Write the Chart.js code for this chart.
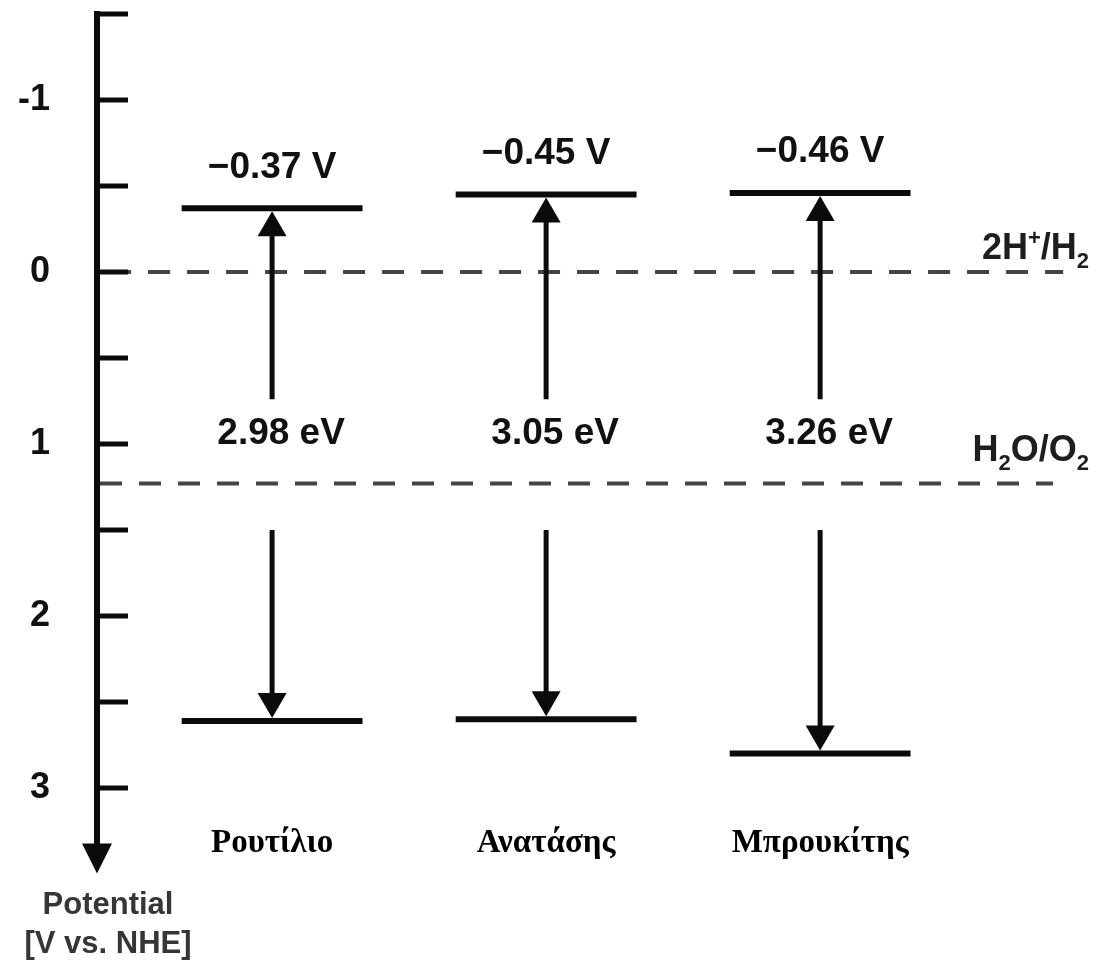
<!DOCTYPE html>
<html>
<head>
<meta charset="utf-8">
<script src="https://cdn.jsdelivr.net/npm/chart.js@4/dist/chart.umd.min.js"></script>
<style>
  html, body { margin: 0; padding: 0; background: #ffffff; }
  canvas { display: block; }
</style>
</head>
<body>
<canvas id="c" width="1101" height="962"></canvas>
<script>
// Band edge positions of the three TiO2 polymorphs against NHE
const phases   = ['Ρουτίλιο', 'Ανατάσης', 'Μπρουκίτης'];
const cbEdges  = [-0.37, -0.45, -0.46];   // conduction band edge, V vs NHE
const bandGaps = [2.98, 3.05, 3.26];      // eV
const vbEdges  = [2.61, 2.60, 2.80];      // valence band edge, V vs NHE

// Water redox couples
const redoxValues = [0, 1.23];
const redoxLabels = [
  [['2H', ''], ['+', 'sup'], ['/H', ''], ['2', 'sub']],
  [['H', ''], ['2', 'sub'], ['O/O', ''], ['2', 'sub']]
];

// Potential axis
const tickValues = [-1.5, -1, -0.5, 0, 0.5, 1, 1.5, 2, 2.5, 3];
const tickLabels = ['', '-1', '', '0', '', '1', '', '2', '', '3'];
const axisTitle  = ['Potential', '[V vs. NHE]'];

// Drawing layout (in scale units unless noted)
const L = {
  xMin: -0.639, xMax: 3.025,
  halfLen: 0.33,
  upArrowFrom: 0.74, downArrowFrom: 1.5,
  gapLabelAt: 0.94, gapLabelShift: 9,       // px
  cbLabelLift: 41,                          // px
  phaseLabelAt: 3.32,
  redoxFrom: [-0.595, -0.628], redoxTo: [2.887, 2.85],
  redoxLift: [13, 23], redoxRight: 1089,    // px
  headW: 29, headH: 25
};

const SANS  = "'Liberation Sans', Arial, Helvetica, sans-serif";
const SERIF = "'Liberation Serif', 'Times New Roman', serif";
const INK = '#0b0b0b';

const datasets = [];
phases.forEach((name, i) => {
  [cbEdges[i], vbEdges[i]].forEach(v => datasets.push({
    label: name,
    data: [{ x: i - L.halfLen, y: v }, { x: i + L.halfLen, y: v }],
    borderColor: INK, borderWidth: 6, pointRadius: 0, showLine: true, fill: false
  }));
});
redoxValues.forEach((v, j) => datasets.push({
  label: 'redox',
  data: [{ x: L.redoxFrom[j], y: v }, { x: L.redoxTo[j], y: v }],
  borderColor: '#444444', borderWidth: 4, borderDash: [22, 17],
  pointRadius: 0, showLine: true, fill: false
}));

function head(ctx, cx, tipY, w, h, dir) {   // dir: 1 points down, -1 points up
  ctx.beginPath();
  ctx.moveTo(cx, tipY);
  ctx.lineTo(cx - w / 2, tipY - dir * h);
  ctx.lineTo(cx + w / 2, tipY - dir * h);
  ctx.closePath();
  ctx.fill();
}

function richRight(ctx, parts, right, baseY, size) {
  const small = Math.round(size * 0.62);
  const fontOf = s => `bold ${s}px ${SANS}`;
  let total = 0;
  parts.forEach(([t, k]) => { ctx.font = fontOf(k ? small : size); total += ctx.measureText(t).width; });
  let xx = right - total;
  ctx.textAlign = 'left';
  ctx.textBaseline = 'alphabetic';
  parts.forEach(([t, k]) => {
    ctx.font = fontOf(k ? small : size);
    const dy = k === 'sup' ? -size * 0.38 : k === 'sub' ? size * 0.26 : 0;
    ctx.fillText(t, xx, baseY + dy);
    xx += ctx.measureText(t).width;
  });
}

const bandPlugin = {
  id: 'bandDiagram',
  afterDatasetsDraw(chart) {
    const { ctx, chartArea, scales: { x, y } } = chart;
    const ax = chartArea.left;
    ctx.save();
    ctx.fillStyle = INK;
    ctx.strokeStyle = INK;

    // inward tick marks
    ctx.lineWidth = 5;
    tickValues.forEach(v => {
      const py = Math.round(y.getPixelForValue(v));
      ctx.beginPath(); ctx.moveTo(ax, py); ctx.lineTo(ax + 31, py); ctx.stroke();
    });

    // arrowhead closing the potential axis
    head(ctx, ax, chartArea.bottom + 8, 30, 30, 1);

    // excitation arrows
    ctx.lineWidth = 5;
    phases.forEach((name, i) => {
      const cx = x.getPixelForValue(i);
      const upTip = y.getPixelForValue(cbEdges[i]) + 3;
      ctx.beginPath(); ctx.moveTo(cx, y.getPixelForValue(L.upArrowFrom)); ctx.lineTo(cx, upTip + L.headH - 1); ctx.stroke();
      head(ctx, cx, upTip, L.headW, L.headH, -1);
      const dnTip = y.getPixelForValue(vbEdges[i]) - 3;
      ctx.beginPath(); ctx.moveTo(cx, y.getPixelForValue(L.downArrowFrom)); ctx.lineTo(cx, dnTip - L.headH + 1); ctx.stroke();
      head(ctx, cx, dnTip, L.headW, L.headH, 1);
    });

    // value labels
    ctx.textAlign = 'center';
    ctx.textBaseline = 'middle';
    ctx.fillStyle = '#111111';
    ctx.font = `bold 37px ${SANS}`;
    phases.forEach((name, i) => {
      const cx = x.getPixelForValue(i);
      const cb = cbEdges[i];
      ctx.fillText((cb < 0 ? '\u2212' : '') + Math.abs(cb).toFixed(2) + ' V', cx, y.getPixelForValue(cb) - L.cbLabelLift);
      ctx.fillText(bandGaps[i].toFixed(2) + ' eV', cx + L.gapLabelShift, y.getPixelForValue(L.gapLabelAt));
    });

    // polymorph names
    ctx.font = `bold 33px ${SERIF}`;
    ctx.fillStyle = '#000000';
    phases.forEach((name, i) => ctx.fillText(name, x.getPixelForValue(i), y.getPixelForValue(L.phaseLabelAt)));

    // redox couple labels
    ctx.fillStyle = '#1e1e1e';
    redoxValues.forEach((v, j) => richRight(ctx, redoxLabels[j], L.redoxRight, y.getPixelForValue(v) - L.redoxLift[j], 36));

    // axis title under the arrow
    ctx.textAlign = 'center';
    ctx.textBaseline = 'middle';
    ctx.fillStyle = '#363636';
    ctx.font = `bold 31px ${SANS}`;
    ctx.fillText(axisTitle[0], ax + 11, 905);
    ctx.fillText(axisTitle[1], ax + 11, 944);
    ctx.restore();
  }
};

new Chart(document.getElementById('c'), {
  type: 'scatter',
  data: { datasets },
  options: {
    responsive: false,
    animation: false,
    devicePixelRatio: 1,
    events: [],
    layout: { padding: { top: 14, bottom: 96.6, left: 0, right: 0 } },
    plugins: { legend: { display: false }, tooltip: { enabled: false } },
    scales: {
      x: { type: 'linear', min: L.xMin, max: L.xMax, display: false },
      y: {
        type: 'linear', reverse: true, min: -1.5, max: 3.45,
        afterBuildTicks: s => { s.ticks = tickValues.map(v => ({ value: v })); },
        afterFit: s => { s.width = 97; s.paddingTop = 0; s.paddingBottom = 0; },
        border: { display: true, color: INK, width: 6 },
        grid: { drawOnChartArea: false, drawTicks: false },
        ticks: {
          padding: 47, color: '#111111', autoSkip: false,
          font: { family: SANS, size: 36, weight: 'bold' },
          callback: (val) => {
            const k = tickValues.indexOf(val);
            return k >= 0 && tickLabels[k] ? tickLabels[k] : null;
          }
        }
      }
    }
  },
  plugins: [bandPlugin]
});
</script>
</body>
</html>
